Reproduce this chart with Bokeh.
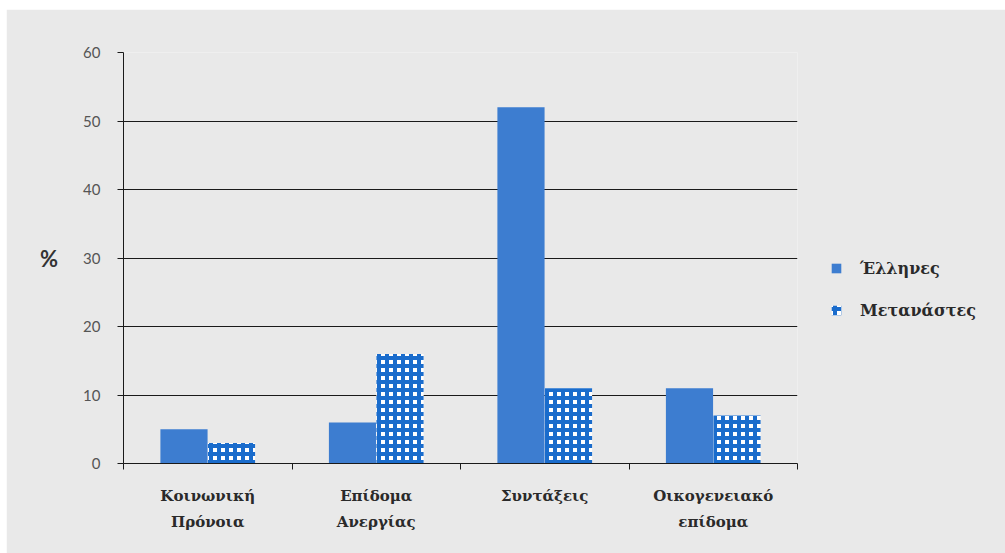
from bokeh.plotting import figure
from bokeh.models import FixedTicker, Legend, LegendItem, ColumnDataSource, Range1d
from bokeh.embed import file_html
from bokeh.resources import INLINE

categories = ["Κοινωνική\nΠρόνοια", "Επίδομα\nΑνεργίας", "Συντάξεις", "Οικογενειακό\nεπίδομα"]
greeks = [5, 6, 52, 11]
migrants = [3, 16, 11, 7]
series_names = ["Έλληνες", "Μετανάστες"]
y_ticks = [0, 10, 20, 30, 40, 50, 60]

GREEK_COLOR = "#3d7dd0"
MIGR_COLOR = "#1a6ccc"
BG = "#e9e9e9"

n = len(categories)
off = 0.141
bw = 0.28
src = ColumnDataSource(dict(
    xg=[i + 0.5 - off for i in range(n)],
    xm=[i + 0.5 + off for i in range(n)],
    g=greeks, m=migrants))

p = figure(frame_width=674, frame_height=411, output_backend="svg", toolbar_location=None,
           x_range=Range1d(0, n), y_range=Range1d(0, 60),
           min_border_left=117, min_border_right=208, min_border_top=43, min_border_bottom=90,
           background_fill_color=BG, border_fill_color=BG, outline_line_color=None)
p.margin = (9, 0, 0, 6)

rg = p.vbar(x="xg", top="g", width=bw, source=src, fill_color=GREEK_COLOR, line_color=None)
rm = p.vbar(x="xm", top="m", width=bw, source=src, fill_color="white", line_color=None,
            hatch_pattern="+", hatch_color=MIGR_COLOR, hatch_scale=8, hatch_weight=4,
            hatch_alpha=1.0)

p.xgrid.visible = False
p.ygrid.ticker = FixedTicker(ticks=y_ticks)
p.ygrid.grid_line_color = "#1a1a1a"
p.ygrid.grid_line_width = 1

ya = p.yaxis[0]
ya.ticker = FixedTicker(ticks=y_ticks)
ya.axis_line_color = "#1a1a1a"
ya.major_tick_line_color = "#1a1a1a"
ya.major_tick_out = 6
ya.major_tick_in = 0
ya.minor_tick_line_color = None
ya.major_label_standoff = 17
ya.major_label_text_font = "Lato"
ya.major_label_text_font_size = "15px"
ya.major_label_text_color = "#555555"
ya.axis_label = "%"
ya.axis_label_text_font = "Lato"
ya.axis_label_text_font_size = "22px"
ya.axis_label_text_font_style = "bold"
ya.axis_label_text_color = "#333333"
ya.axis_label_standoff = 22
try:
    ya.axis_label_orientation = "horizontal"
except Exception:
    pass

xa = p.xaxis[0]
xa.ticker = FixedTicker(ticks=[i + 0.5 for i in range(n)], minor_ticks=list(range(n + 1)))
xa.major_label_overrides = {i + 0.5: c for i, c in enumerate(categories)}
xa.axis_line_color = "#1a1a1a"
xa.major_tick_out = 0
xa.major_tick_in = 0
xa.minor_tick_out = 6
xa.minor_tick_in = 0
xa.minor_tick_line_color = "#1a1a1a"
xa.major_label_standoff = 17
xa.major_label_text_font = "DejaVu Serif"
xa.major_label_text_font_style = "bold"
xa.major_label_text_font_size = "15px"
xa.major_label_text_color = "#2a2a2a"
xa.major_label_text_line_height = 1.45

legend = Legend(items=[LegendItem(label=series_names[0], renderers=[rg]),
                       LegendItem(label=series_names[1], renderers=[rm])],
                location=(33, 143), orientation="vertical",
                padding=0, margin=0, border_line_color=None, background_fill_alpha=0,
                glyph_width=12, glyph_height=12, label_height=20, spacing=22,
                label_standoff=18, label_text_font="DejaVu Serif", label_text_font_style="bold",
                label_text_font_size="16px", label_text_color="#2a2a2a")
p.add_layout(legend, "right")

open("out.html", "w").write(file_html(p, INLINE))
